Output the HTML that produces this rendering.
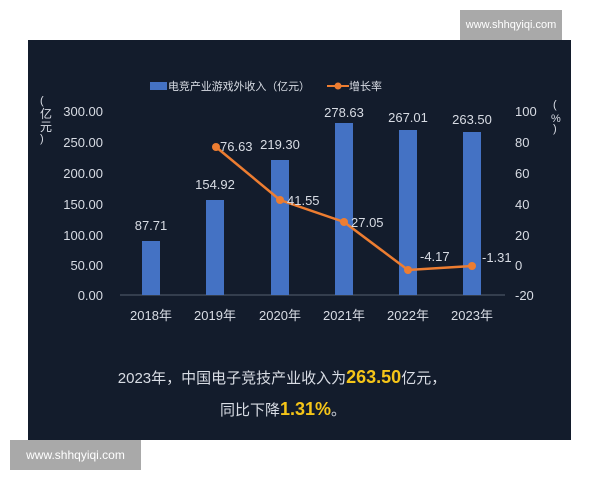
<!DOCTYPE html>
<html><head><meta charset="utf-8"><style>
body{margin:0;width:600px;height:480px;background:#fff;position:relative;overflow:hidden;font-family:"Liberation Sans","Noto Sans CJK SC",sans-serif}
.wm{position:absolute;background:#a9a9a9;color:#fff;font-size:12px;display:flex;align-items:center;justify-content:center;white-space:nowrap}
</style></head><body>
<div style="position:absolute;left:28px;top:40px;width:543px;height:400px;background:#131c2c"></div>
<div class="wm" style="left:460px;top:10px;width:102px;height:30px;font-size:11px">www.shhqyiqi.com</div>
<div class="wm" style="left:10px;top:440px;width:131px;height:30px">www.shhqyiqi.com</div>
<svg width="600" height="480" style="position:absolute;left:0;top:0" font-family="Liberation Sans, Noto Sans CJK SC, sans-serif">
<rect x="150" y="82" width="17" height="8" fill="#4472c4"/>
<text x="168" y="90" font-size="11" fill="#d8dce4" textLength="142">电竞产业游戏外收入（亿元）</text>
<line x1="327" y1="86" x2="349" y2="86" stroke="#ed7d31" stroke-width="2"/><circle cx="338" cy="86" r="3.5" fill="#ed7d31"/>
<text x="349" y="90" font-size="11" fill="#d8dce4">增长率</text>
<g fill="#d8dce4" font-size="13" text-anchor="end">
<text x="103" y="116">300.00</text><text x="103" y="147">250.00</text><text x="103" y="178">200.00</text><text x="103" y="209">150.00</text><text x="103" y="240">100.00</text><text x="103" y="270">50.00</text><text x="103" y="300">0.00</text>
</g>
<g fill="#d8dce4" font-size="12">
<text x="40" y="104" font-size="11">(</text><text x="40" y="118">亿</text><text x="40" y="131">元</text><text x="40" y="142" font-size="11">)</text>
<text x="553" y="108" font-size="11">(</text><text x="551" y="122" font-size="11">%</text><text x="553" y="132" font-size="11">)</text>
<text x="515" y="116" font-size="13">100</text><text x="515" y="147" font-size="13">80</text><text x="515" y="178" font-size="13">60</text><text x="515" y="209" font-size="13">40</text><text x="515" y="240" font-size="13">20</text><text x="515" y="270" font-size="13">0</text><text x="515" y="300" font-size="13">-20</text>
</g>
<line x1="120" y1="295" x2="505" y2="295" stroke="#556070" stroke-width="1"/>
<g fill="#4472c4">
<rect x="142" y="241" width="18" height="54"/><rect x="206" y="200" width="18" height="95"/><rect x="271" y="160" width="18" height="135"/><rect x="335" y="123" width="18" height="172"/><rect x="399" y="130" width="18" height="165"/><rect x="463" y="132" width="18" height="163"/>
</g>
<g fill="#d8dce4" font-size="13" text-anchor="middle">
<text x="151" y="230">87.71</text><text x="215" y="189">154.92</text><text x="280" y="149">219.30</text><text x="344" y="117">278.63</text><text x="408" y="122">267.01</text><text x="472" y="124">263.50</text>
<text x="151" y="320">2018年</text><text x="215" y="320">2019年</text><text x="280" y="320">2020年</text><text x="344" y="320">2021年</text><text x="408" y="320">2022年</text><text x="472" y="320">2023年</text>
</g>
<polyline points="216,147 280,200 344,222 408,270 472,266" fill="none" stroke="#ed7d31" stroke-width="2.5"/>
<g fill="#ed7d31"><circle cx="216" cy="147" r="4"/><circle cx="280" cy="200" r="4"/><circle cx="344" cy="222" r="4"/><circle cx="408" cy="270" r="4"/><circle cx="472" cy="266" r="4"/></g>
<g fill="#d8dce4" font-size="13">
<text x="220" y="151">76.63</text><text x="287" y="205">41.55</text><text x="351" y="227">27.05</text><text x="420" y="261">-4.17</text><text x="482" y="262">-1.31</text>
</g>
<g font-size="15" fill="#d8dce4" text-anchor="middle">
<text x="282" y="383">2023年，中国电子竞技产业收入为<tspan fill="#f5c518" font-weight="bold" font-size="18">263.50</tspan>亿元，</text>
<text x="283" y="415">同比下降<tspan fill="#f5c518" font-weight="bold" font-size="18">1.31%</tspan>。</text>
</g>
</svg>
</body></html>
